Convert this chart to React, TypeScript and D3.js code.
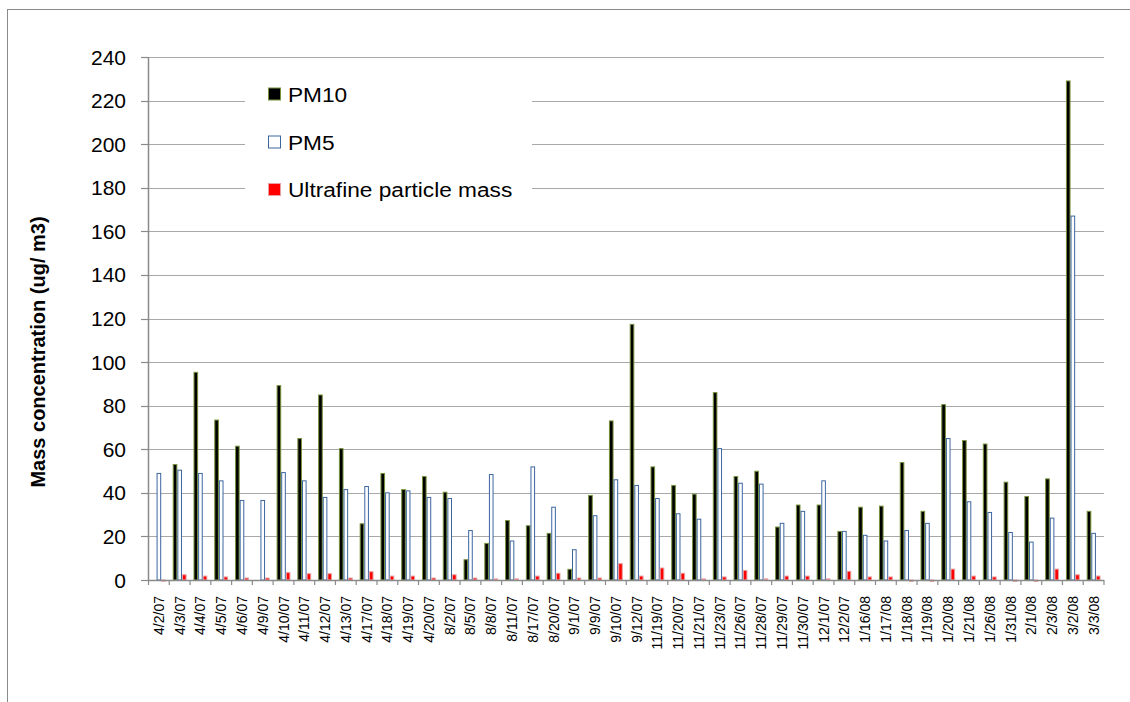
import React from "react";
import * as d3 from "d3";

const categories = ["4/2/07","4/3/07","4/4/07","4/5/07","4/6/07","4/9/07","4/10/07","4/11/07","4/12/07","4/13/07","4/17/07","4/18/07","4/19/07","4/20/07","8/2/07","8/5/07","8/8/07","8/11/07","8/17/07","8/20/07","9/1/07","9/9/07","9/10/07","9/12/07","11/19/07","11/20/07","11/21/07","11/23/07","11/26/07","11/28/07","11/29/07","11/30/07","12/1/07","12/2/07","1/16/08","1/17/08","1/18/08","1/19/08","1/20/08","1/21/08","1/26/08","1/31/08","2/1/08","2/3/08","3/2/08","3/3/08"];

const pm10 = [0, 53, 95.3, 73.4, 61.4, 0, 89.2, 64.9, 84.9, 60.3, 25.8, 48.9, 41.5, 47.5, 40.3, 9.3, 16.8, 27.3, 24.9, 21.4, 4.9, 38.8, 73, 117.3, 51.9, 43.4, 39.4, 86, 47.5, 49.9, 24.3, 34.4, 34.4, 22.3, 33.4, 33.9, 53.9, 31.5, 80.5, 64, 62.4, 44.9, 38.3, 46.4, 229, 31.5];

const pm5 = [48.9, 50.4, 48.9, 45.5, 36.5, 36.5, 49.3, 45.5, 37.9, 41.5, 42.9, 40, 40.9, 37.9, 37.4, 22.7, 48.4, 17.9, 51.9, 33.4, 13.9, 29.5, 46, 43.4, 37.4, 30.4, 27.9, 60.3, 44.4, 44, 26, 31.5, 45.5, 22.3, 20.5, 17.9, 22.7, 26, 64.9, 35.9, 31, 21.8, 17.4, 28.4, 167, 21.4];

const ultrafine = [-0.5, 2.4, 1.8, 1.4, 0.9, 0.9, 3.4, 2.9, 2.9, 0.9, 3.8, 1.8, 1.8, 0.9, 2.4, 0.9, 0.5, 0.5, 1.8, 3.1, 0.9, 0.9, 7.5, 1.8, 5.5, 3.1, 0.5, 1.4, 4.4, 0.5, 1.8, 1.8, 0.5, 4, 1.4, 1.4, -0.6, -0.6, 5, 1.8, 1.4, -0.6, -0.6, 5, 2.4, 1.8];

const yTicks = [0, 20, 40, 60, 80, 100, 120, 140, 160, 180, 200, 220, 240];

const seriesNames = ["PM10", "PM5", "Ultrafine particle mass"];

const FONT = "Arial, 'Liberation Sans', sans-serif";

export default function App() {
  const W = 1130, H = 702;
  const left = 148.5, right = 1104, top = 57, bottom = 580;

  const x = d3.scaleBand<string>().domain(categories).range([left, right]).paddingInner(0).paddingOuter(0);
  const bw = x.bandwidth();
  const inner = d3.scaleBand<string>().domain(["a", "b", "c"]).range([0, bw]).paddingInner(0).paddingOuter(0.75);
  const y = d3.scaleLinear().domain([0, 240]).range([bottom, top]);

  const series = [
    { key: "a", data: pm10, fill: "#000000", stroke: "#77933C" },
    { key: "b", data: pm5, fill: "#FFFFFF", stroke: "#3C66A0" },
    { key: "c", data: ultrafine, fill: "#FF0000", stroke: "#E8A0A0" },
  ];

  const legendRows = [
    { name: seriesNames[0], fill: "#000000", stroke: "#77933C", y: 94 },
    { name: seriesNames[1], fill: "#FFFFFF", stroke: "#3C66A0", y: 142 },
    { name: seriesNames[2], fill: "#FF0000", stroke: "#E8A0A0", y: 189.5 },
  ];

  return (
    <svg width={W} height={H} style={{ position: "absolute", left: 0, top: 0, background: "#fff" }} fontFamily={FONT}>
      <rect x={7.5} y={9.5} width={W + 10} height={H + 10} fill="#fff" stroke="#8a8a8a" strokeWidth={1} />

      {/* gridlines */}
      {yTicks.filter(t => t > 0).map(t => (
        <line key={t} x1={left} x2={right} y1={Math.round(y(t)) + 0.5} y2={Math.round(y(t)) + 0.5} stroke="#a8a8a8" strokeWidth={1.2} />
      ))}

      {/* legend box covering gridlines */}
      <rect x={245} y={66} width={287} height={150} fill="#fff" />

      {/* bars */}
      {series.map(s => (
        <g key={s.key}>
          {categories.map((c, i) => {
            const v = s.data[i];
            if (v === 0) return null;
            const y0 = y(0), y1 = y(v);
            const bx = (x(c) as number) + (inner(s.key) as number);
            return (
              <rect key={c} x={bx + 0.5} y={Math.min(y0, y1)} width={inner.bandwidth() - 1} height={Math.abs(y0 - y1)}
                fill={s.fill} stroke={s.stroke} strokeWidth={1} />
            );
          })}
        </g>
      ))}

      {/* y axis */}
      <line x1={left} x2={left} y1={top} y2={bottom} stroke="#8a8a8a" strokeWidth={1.5} />
      {yTicks.map(t => (
        <g key={t}>
          <line x1={left - 7.5} x2={left} y1={Math.round(y(t)) + 0.5} y2={Math.round(y(t)) + 0.5} stroke="#8a8a8a" strokeWidth={1.2} />
          <text x={126} y={y(t)} dy="0.36em" textAnchor="end" fontSize={21} fill="#000">{t}</text>
        </g>
      ))}

      {/* x axis */}
      <line x1={left} x2={right} y1={bottom + 0.5} y2={bottom + 0.5} stroke="#8a8a8a" strokeWidth={1.5} />
      {categories.concat(["__end"]).map((c, i) => {
        const xx = left + i * bw;
        return <line key={"t" + i} x1={xx} x2={xx} y1={bottom} y2={bottom + 5} stroke="#8a8a8a" strokeWidth={1.2} />;
      })}
      {categories.map(c => {
        const cx = (x(c) as number) + bw / 2;
        return (
          <text key={"l" + c} transform={`translate(${cx + 5},${596}) rotate(-90)`} textAnchor="end" fontSize={14} fill="#000">{c}</text>
        );
      })}

      {/* axis title */}
      <text transform={`translate(45,352) rotate(-90)`} textAnchor="middle" fontSize={20} fontWeight="bold" fill="#000">Mass concentration (ug/ m3)</text>

      {/* legend */}
      {legendRows.map(r => (
        <g key={r.name}>
          <rect x={268.5} y={r.y - 6} width={12} height={12} fill={r.fill} stroke={r.stroke} strokeWidth={1} />
          <text transform={`translate(288,${r.y}) scale(1.08,1)`} dy="0.36em" fontSize={21} fill="#000">{r.name}</text>
        </g>
      ))}
    </svg>
  );
}
